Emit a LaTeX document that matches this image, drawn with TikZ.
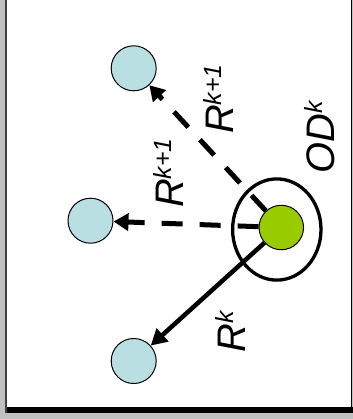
\documentclass[tikz,border=0pt]{standalone}
\usepackage{fontspec}
\setmainfont{Liberation Sans}
\usetikzlibrary{arrows.meta,shapes.geometric}
\definecolor{bgray}{RGB}{192,192,192}
\definecolor{lblue}{RGB}{186,223,227}
\definecolor{lgreen}{RGB}{153,204,0}
\newcommand\mysup[1]{\raisebox{12bp}{\fontsize{25}{28}\selectfont #1}}
\begin{document}
\begin{tikzpicture}[x=1bp,y=-1bp,
  peer/.style={circle,draw=black,line width=1bp,fill=lblue,minimum size=45bp,inner sep=0pt},
  hub/.style={circle,draw=black,line width=1bp,fill=lgreen,minimum size=44.5bp,inner sep=0pt},
  ring/.style={ellipse,draw=black,line width=3.3bp,minimum width=88.4bp,minimum height=101.2bp,inner sep=0pt},
  dasharrow/.style={line width=5bp,dash pattern=on 21bp off 17bp,-{Triangle[length=15bp,width=17bp]}},
  solidarrow/.style={line width=4.5bp,-{Triangle[length=16bp,width=17bp]}},
  lbl/.style={rotate=90,inner sep=0pt,font=\fontsize{40}{44}\selectfont\itshape}]
\fill[bgray] (0,0) rectangle (353,419);
\useasboundingbox (0,0) rectangle (353,419);
\fill[white] (6.7,0) rectangle (352,406.7);
\fill[black!75] (5.3,0) rectangle (6.7,412.7);
\fill[black] (6.7,406.7) rectangle (353,412.7);
\fill[black] (351,0) rectangle (352,406.7);

\node[ring] (ring) at (276.8,229.5) {};
\node[peer] (top) at (133.7,68.3) {};
\node[peer] (mid) at (90.5,220.7) {};
\node[peer] (bot) at (133.7,361) {};
\node[hub] (hub) at (281.3,227.5) {};

\draw[dasharrow] (hub) -- (top);
\draw[dasharrow] (hub) -- (mid);
\draw[solidarrow] (hub) -- (bot);

\node[lbl] (l1) at (218,99) {R\mysup{k+1}};
\node[lbl] (l2) at (168,173) {R\mysup{k+1}};
\node[lbl] (l3) at (320,137) {OD\mysup{k}};
\node[lbl] (l4) at (230,332) {R\mysup{k}};
\end{tikzpicture}
\end{document}
